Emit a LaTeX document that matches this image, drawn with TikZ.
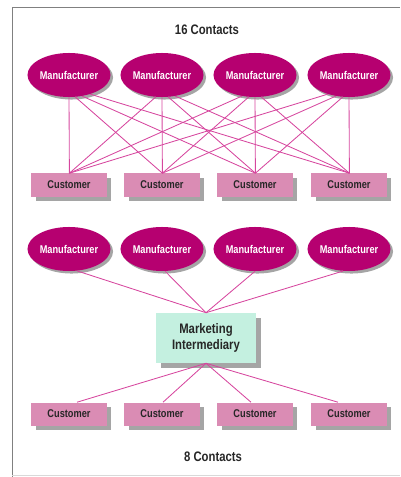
\documentclass[tikz,border=0pt]{standalone}
\usepackage{fontspec}
\setmainfont{Liberation Sans}[FakeStretch=0.82]
\usetikzlibrary{shapes.geometric,shadows,calc}

\definecolor{manucol}{RGB}{182,0,112}
\definecolor{custcol}{RGB}{218,140,180}
\definecolor{intercol}{RGB}{196,240,224}
\definecolor{linkcol}{RGB}{214,70,158}
\definecolor{shadecol}{RGB}{165,165,165}

\begin{document}
\begin{tikzpicture}[x=0.025cm, y=-0.025cm,
    manu/.style={ellipse, fill=manucol, text=white, minimum width=2.075cm, minimum height=1.1cm, inner sep=0pt,
        font=\bfseries\fontsize{8}{9}\selectfont,
        drop shadow={shadow xshift=1.8pt, shadow yshift=-1.8pt, fill=shadecol, opacity=1}},
    cust/.style={rectangle, fill=custcol, minimum width=1.875cm, minimum height=0.575cm, inner sep=0pt,
        font=\bfseries\fontsize{8}{9}\selectfont, text=black!85,
        drop shadow={shadow xshift=3.5pt, shadow yshift=-3.5pt, fill=shadecol, opacity=1}},
    inter/.style={rectangle, fill=intercol, minimum width=2.5cm, minimum height=1.25cm, inner sep=0pt, align=center,
        font=\bfseries\fontsize{9.8}{11.5}\selectfont, text=black!85,
        drop shadow={shadow xshift=3.5pt, shadow yshift=-3.5pt, fill=shadecol, opacity=1}},
    link/.style={draw=linkcol, line width=0.6pt},
    count/.style={font=\bfseries\fontsize{9.8}{11}\selectfont, text=black!85}]
    \useasboundingbox (0,0) rectangle (400,477);
    % Frame
    \draw[black!50, line width=0.7pt] (12,477) -- (12,7) -- (400,7);
    \draw[black!15, line width=0.7pt] (12,475) -- (400,475);
    % Direct contacts
    \node[count] (Count-1) at (207,30) {16 Contacts};
    \foreach \x [count=\i] in {69,162,255,349} {
        \node[manu] (Manu-\i) at (\x,75) {Manufacturer};
        \node[cust] (Cust-\i) at (\x,185) {Customer};
    }
    \foreach \i in {1,2,3,4} {
        \foreach \j in {1,2,3,4} {
            \pgfmathtruncatemacro{\ang}{270+16*(\j-\i)}
            \draw[link] (Manu-\i.\ang) -- ($(Cust-\j.north)+(0.4,0)$);
        }
    }
    % Through the intermediary
    \foreach \x [count=\i] in {69,162,255,349} {
        \node[manu] (Manu2-\i) at (\x,249) {Manufacturer};
        \node[cust] (Cust2-\i) at (\x,414) {Customer};
    }
    \node[inter] (Inter) at (206,338) {Marketing\\Intermediary};
    \foreach \i/\ang in {1/290,2/278,3/270,4/255} {
        \draw[link] (Manu2-\i.\ang) -- (Inter.north);
    }
    \foreach \i/\dx in {1/8,2/1,3/-4,4/-11} {
        \draw[link] (Inter.south) -- ($(Cust2-\i.north)+(\dx,0)$);
    }
    \node[count] (Count-2) at (213,457) {8 Contacts};
\end{tikzpicture}
\end{document}
